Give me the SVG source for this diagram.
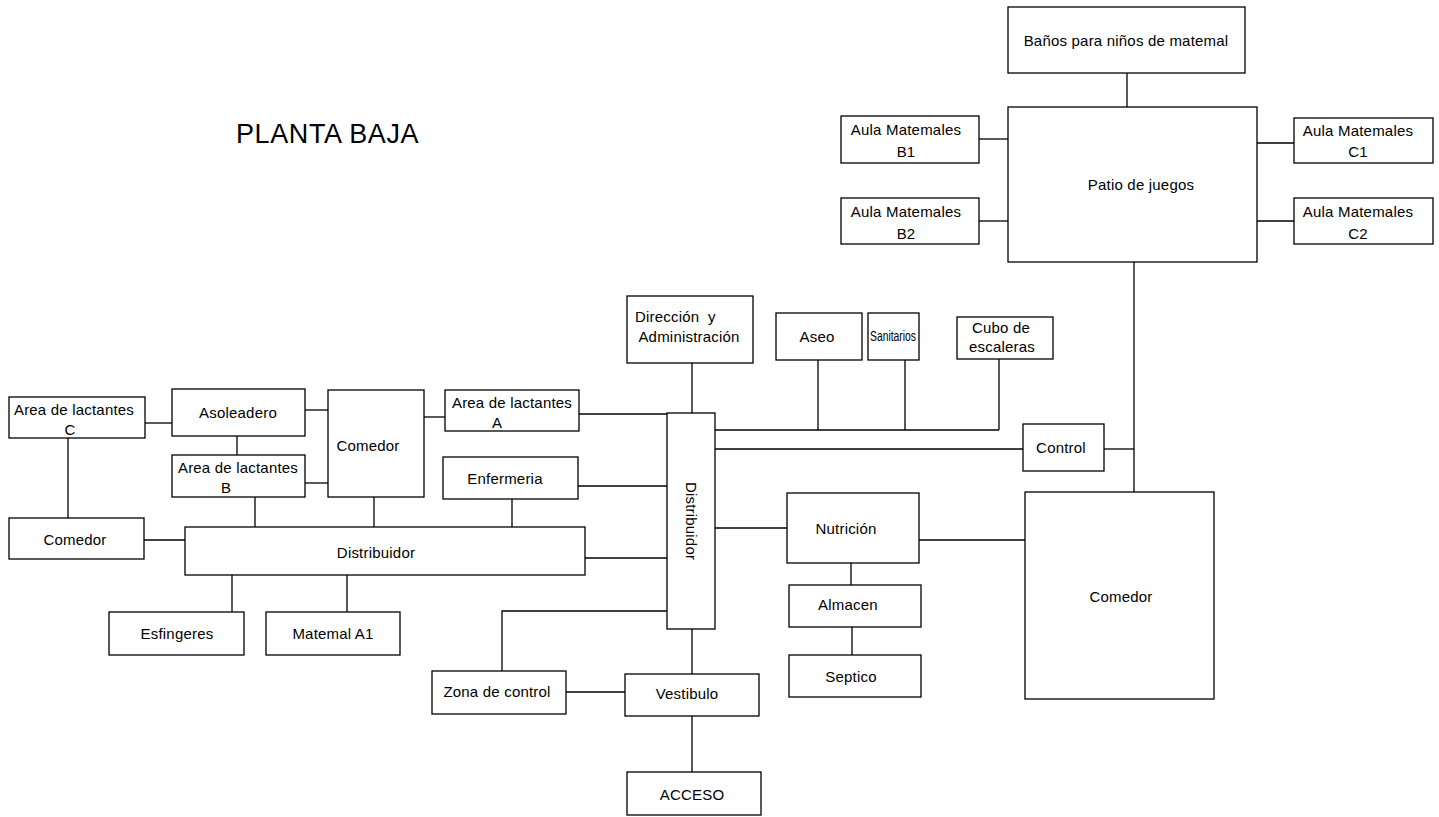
<svg xmlns="http://www.w3.org/2000/svg" width="1439" height="817" viewBox="0 0 1439 817">
<style>
rect{fill:#fff;stroke:#000;stroke-width:1.3}
text{font-family:"Liberation Sans",Arial,sans-serif;font-size:15px;fill:#000;text-anchor:middle;letter-spacing:0.2px}
.c line,.c polyline{stroke:#000;stroke-width:1.3;fill:none}
.title{font-size:27px;text-anchor:start;letter-spacing:0.6px}
</style>
<rect x="0" y="0" width="1439" height="817" style="stroke:none"/>
<text class="title" x="236" y="143">PLANTA BAJA</text>
<g class="c" id="connectors">
<line x1="1127" y1="73" x2="1127" y2="107"/>
<line x1="979" y1="139" x2="1008" y2="139"/>
<line x1="979" y1="221" x2="1008" y2="221"/>
<line x1="1257" y1="143" x2="1294" y2="143"/>
<line x1="1257" y1="221" x2="1294" y2="221"/>
<line x1="1134" y1="262" x2="1134" y2="492"/>
<line x1="145" y1="423" x2="172" y2="423"/>
<line x1="305" y1="410" x2="328" y2="410"/>
<line x1="237" y1="436" x2="237" y2="455"/>
<line x1="305" y1="483" x2="328" y2="483"/>
<line x1="255" y1="497" x2="255" y2="527"/>
<line x1="374" y1="497" x2="374" y2="527"/>
<line x1="68" y1="438" x2="68" y2="518"/>
<line x1="144" y1="540" x2="185" y2="540"/>
<line x1="232" y1="575" x2="232" y2="612"/>
<line x1="347" y1="575" x2="347" y2="612"/>
<line x1="585" y1="558" x2="667" y2="558"/>
<line x1="424" y1="417" x2="445" y2="417"/>
<line x1="579" y1="414" x2="667" y2="414"/>
<line x1="578" y1="486" x2="667" y2="486"/>
<line x1="512" y1="499" x2="512" y2="527"/>
<line x1="692" y1="363" x2="692" y2="413"/>
<line x1="715" y1="430" x2="999" y2="430"/>
<line x1="818" y1="360" x2="818" y2="430"/>
<line x1="905" y1="360" x2="905" y2="430"/>
<line x1="999" y1="359" x2="999" y2="430"/>
<line x1="715" y1="449" x2="1023" y2="449"/>
<line x1="1104" y1="449" x2="1134" y2="449"/>
<line x1="715" y1="528" x2="787" y2="528"/>
<line x1="919" y1="540" x2="1025" y2="540"/>
<line x1="851" y1="563" x2="851" y2="585"/>
<line x1="852" y1="627" x2="852" y2="655"/>
<polyline points="667,611 502,611 502,671"/>
<line x1="566" y1="692" x2="625" y2="692"/>
<line x1="692" y1="629" x2="692" y2="674"/>
<line x1="692" y1="716" x2="692" y2="772"/>
</g>
<g id="banos"><rect x="1008" y="7" width="237" height="66"/><text x="1126" y="46">Baños para niños de matemal</text></g>
<g id="patio"><rect x="1008" y="107" width="249" height="155"/><text x="1141" y="190">Patio de juegos</text></g>
<g id="aulaB1"><rect x="841" y="116" width="138" height="47"/><text x="906" y="135">Aula Matemales</text><text x="906" y="157">B1</text></g>
<g id="aulaB2"><rect x="841" y="198" width="138" height="46"/><text x="906" y="217">Aula Matemales</text><text x="906" y="239">B2</text></g>
<g id="aulaC1"><rect x="1294" y="118" width="139" height="45"/><text x="1358" y="136">Aula Matemales</text><text x="1358" y="157">C1</text></g>
<g id="aulaC2"><rect x="1294" y="198" width="139" height="46"/><text x="1358" y="217">Aula Matemales</text><text x="1358" y="239">C2</text></g>
<g id="lactC"><rect x="9" y="397" width="136" height="41"/><text x="74" y="415">Area de lactantes</text><text x="70" y="435">C</text></g>
<g id="asoleadero"><rect x="172" y="389" width="133" height="47"/><text x="238" y="418">Asoleadero</text></g>
<g id="comedor1"><rect x="328" y="390" width="96" height="107"/><text x="368" y="451">Comedor</text></g>
<g id="lactB"><rect x="172" y="455" width="133" height="42"/><text x="238" y="473">Area de lactantes</text><text x="226" y="493">B</text></g>
<g id="comedor2"><rect x="9" y="518" width="135" height="41"/><text x="75" y="545">Comedor</text></g>
<g id="distH"><rect x="185" y="527" width="400" height="48"/><text x="376" y="558">Distribuidor</text></g>
<g id="esfingeres"><rect x="109" y="612" width="135" height="43"/><text x="177" y="639">Esfingeres</text></g>
<g id="matemalA1"><rect x="266" y="612" width="134" height="43"/><text x="333" y="639">Matemal A1</text></g>
<g id="lactA"><rect x="445" y="390" width="134" height="41"/><text x="512" y="408">Area de lactantes</text><text x="497" y="428">A</text></g>
<g id="enfermeria"><rect x="443" y="457" width="135" height="42"/><text x="505" y="484">Enfermeria</text></g>
<g id="direccion"><rect x="627" y="296" width="126" height="67"/><text x="635" y="322" style="text-anchor:start;white-space:pre" xml:space="preserve">Dirección  y</text><text x="689" y="342">Administración</text></g>
<g id="distV"><rect x="667" y="413" width="48" height="216"/><text transform="translate(686,521) rotate(90)">Distribuidor</text></g>
<g id="aseo"><rect x="776" y="313" width="86" height="47"/><text x="817" y="342">Aseo</text></g>
<g id="sanitarios"><rect x="868" y="313" width="51" height="47"/><text x="893" y="341" textLength="46" lengthAdjust="spacingAndGlyphs" style="letter-spacing:0;font-size:14px">Sanitarios</text></g>
<g id="cubo"><rect x="957" y="317" width="96" height="42"/><text x="1001" y="333">Cubo de</text><text x="1002" y="352">escaleras</text></g>
<g id="control"><rect x="1023" y="424" width="81" height="47"/><text x="1061" y="453">Control</text></g>
<g id="nutricion"><rect x="787" y="493" width="132" height="70"/><text x="846" y="534">Nutrición</text></g>
<g id="comedor3"><rect x="1025" y="492" width="189" height="207"/><text x="1121" y="602">Comedor</text></g>
<g id="almacen"><rect x="789" y="585" width="132" height="42"/><text x="848" y="610">Almacen</text></g>
<g id="septico"><rect x="789" y="655" width="132" height="42"/><text x="851" y="682">Septico</text></g>
<g id="zona"><rect x="432" y="671" width="134" height="43"/><text x="497" y="697">Zona de control</text></g>
<g id="vestibulo"><rect x="625" y="674" width="134" height="42"/><text x="687" y="699">Vestibulo</text></g>
<g id="acceso"><rect x="627" y="772" width="134" height="43"/><text x="692" y="800">ACCESO</text></g>
</svg>
